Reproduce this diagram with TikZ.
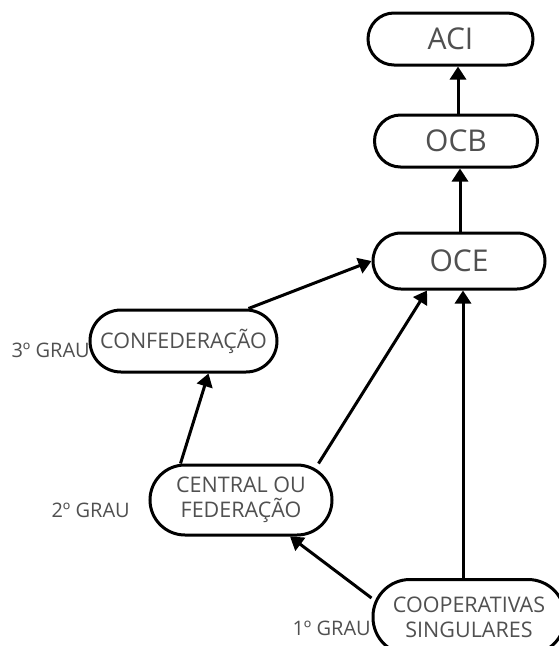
\documentclass[tikz,border=0pt]{standalone}
\usepackage{fontspec}
\setmainfont{Open Sans}
\usetikzlibrary{arrows.meta}
\definecolor{txtgray}{RGB}{80,80,80}
\begin{document}
\begin{tikzpicture}[x=1pt,y=-1pt,
  capsule/.style={draw=black, line width=3pt, fill=white, text=txtgray, align=center, inner sep=0pt},
  big/.style={font=\fontsize{30}{32}\selectfont},
  mid/.style={font=\fontsize{21.5}{25}\selectfont},
  grau/.style={text=txtgray, font=\fontsize{20}{22}\selectfont, inner sep=0pt},
  arr/.style={line width=3pt, -{Triangle[length=13pt,width=16pt]}}
]
\useasboundingbox (0,0) rectangle (558,646);
\fill[white] (0,0) rectangle (558,646);

\node[capsule, big, minimum width=165pt, minimum height=52pt, rounded corners=26pt] (aci) at (450.5,39) {ACI};
\node[capsule, big, minimum width=163pt, minimum height=52pt, rounded corners=26pt] (ocb) at (456,141) {OCB};
\node[capsule, big, minimum width=172pt, minimum height=56pt, rounded corners=28pt] (oce) at (459,261) {OCE};
\node[capsule, mid, minimum width=187pt, minimum height=62pt, rounded corners=31pt] (conf) at (183.5,341) {CONFEDERAÇÃO};
\node[capsule, mid, minimum width=182pt, minimum height=70pt, rounded corners=35pt] (central) at (241,500) {CENTRAL OU\\FEDERAÇÃO};
\node[capsule, mid, minimum width=192pt, minimum height=75pt, rounded corners=37pt] (coop) at (469,617) {COOPERATIVAS\\SINGULARES};

\node[grau, anchor=east] (g3) at (90,350) {3º GRAU};
\node[grau, anchor=east] (g2) at (130,510) {2º GRAU};
\node[grau, anchor=east] (g1) at (371,628) {1º GRAU};

\draw[arr] ([xshift=2pt]ocb.north) -- ([xshift=7.5pt]aci.south);
\draw[arr] ([xshift=1pt]oce.north) -- ([xshift=4pt]ocb.south);
\draw[arr] ([xshift=-30pt]conf.north east) -- (oce.west);
\draw[arr] ([xshift=-15pt]central.north east) -- ([xshift=-32pt]oce.south);
\draw[arr] ([xshift=-6pt]coop.north) -- ([xshift=4pt]oce.south);
\draw[arr] ([xshift=32pt]central.north west) -- ([xshift=25pt]conf.south);
\draw[arr] ([yshift=19pt]coop.west) -- ([xshift=49pt]central.south);
\end{tikzpicture}
\end{document}
